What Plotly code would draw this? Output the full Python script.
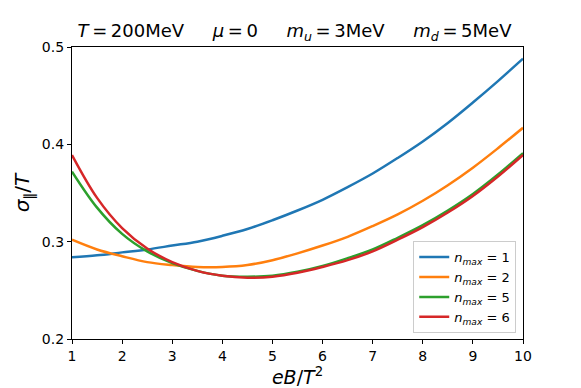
import plotly.graph_objects as go

# eB/T^2 grid and conductivity curves
eb = [1, 1.5, 2, 2.5, 3, 3.5, 4, 4.5, 5, 5.5, 6, 6.5, 7, 7.5, 8, 8.5, 9, 9.5, 10]
sigma_n1 = [0.284, 0.286, 0.289, 0.292, 0.296, 0.300, 0.306, 0.313, 0.322, 0.332, 0.343, 0.356, 0.370, 0.386, 0.403, 0.422, 0.443, 0.465, 0.488]
sigma_n2 = [0.302, 0.292, 0.285, 0.279, 0.276, 0.274, 0.274, 0.276, 0.281, 0.288, 0.296, 0.305, 0.316, 0.328, 0.342, 0.358, 0.376, 0.396, 0.417]
sigma_n5 = [0.372, 0.335, 0.308, 0.290, 0.278, 0.270, 0.265, 0.264, 0.265, 0.269, 0.275, 0.283, 0.292, 0.304, 0.317, 0.332, 0.349, 0.369, 0.391]
sigma_n6 = [0.389, 0.345, 0.314, 0.293, 0.279, 0.270, 0.265, 0.263, 0.264, 0.268, 0.274, 0.281, 0.290, 0.302, 0.315, 0.330, 0.347, 0.367, 0.389]

series = [("1", sigma_n1, "#1f77b4"), ("2", sigma_n2, "#ff7f0e"),
          ("5", sigma_n5, "#2ca02c"), ("6", sigma_n6, "#d62728")]

fig = go.Figure()
for n, ys, col in series:
    fig.add_trace(go.Scatter(x=eb, y=ys, mode="lines", line_shape="spline",
                             line=dict(color=col, width=2.5),
                             name="<i>n</i><sub><i>max</i></sub> = " + n))

axis_style = dict(showline=True, linecolor="black", linewidth=1.2, mirror=True,
                  ticks="outside", ticklen=4, tickcolor="black", showgrid=False,
                  zeroline=False, automargin=False, tickfont=dict(size=14, color="black"))

eq = "\u2009=\u2009"
gap = "     "
title_txt = ("<i>T</i>" + eq + "200MeV" + gap + "<i>μ</i>" + eq + "0" + gap +
             "<i>m</i><sub><i>u</i></sub>" + eq + "3MeV" + gap +
             "<i>m</i><sub><i>d</i></sub>" + eq + "5MeV")

# page body has an 8px margin, so the figure is shrunk by that much
fig.update_layout(
    width=573, height=380,
    paper_bgcolor="white", plot_bgcolor="white",
    font=dict(family="DejaVu Sans", color="black"),
    margin=dict(l=64, r=58, t=39, b=49),
    title=dict(text=title_txt, x=0.5, xanchor="center", y=0.94, yanchor="middle",
               font=dict(size=18)),
    xaxis=dict(range=[1, 10], tickvals=list(range(1, 11)),
               title=dict(text="<i>eB</i>/<i>T</i><sup>2</sup>", font=dict(size=19), standoff=8),
               **axis_style),
    yaxis=dict(range=[0.2, 0.5], tickvals=[0.2, 0.3, 0.4, 0.5], tickformat=".1f",
               title=dict(text="<i>σ</i><sub>∥</sub>/<i>T</i>", font=dict(size=20), standoff=6),
               **axis_style),
    legend=dict(x=0.985, y=0.02, xanchor="right", yanchor="bottom",
                bgcolor="rgba(255,255,255,0.8)", bordercolor="#cccccc", borderwidth=1,
                tracegroupgap=0, font=dict(size=13)),
)

fig.write_html("out.html")
